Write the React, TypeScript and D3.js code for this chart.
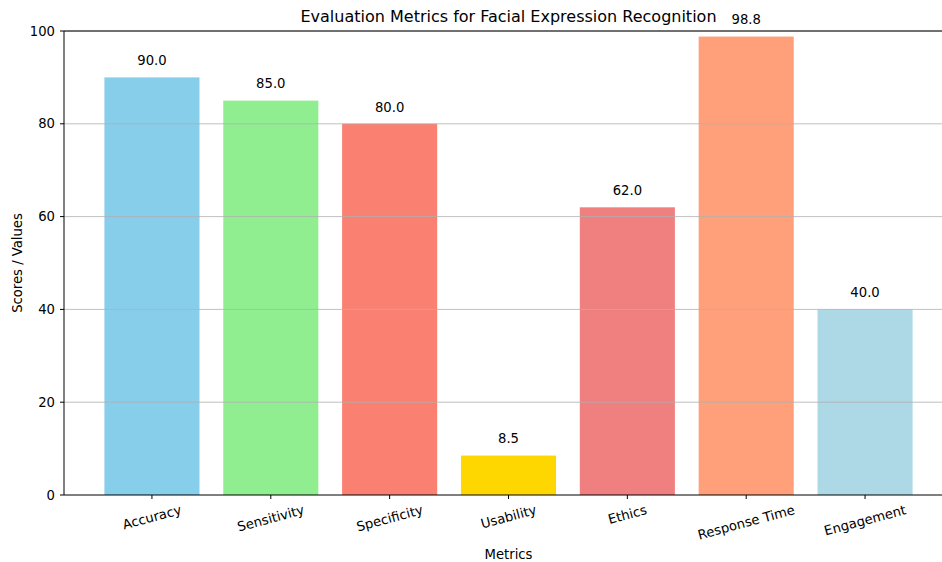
import React, { useEffect, useRef } from "react";
import * as d3 from "d3";

const categories = ["Accuracy", "Sensitivity", "Specificity", "Usability", "Ethics", "Response Time", "Engagement"];
const values = [90.0, 85.0, 80.0, 8.5, 62.0, 98.8, 40.0];
const colors = ["#87CEEB", "#90EE90", "#FA8072", "#FFD700", "#F08080", "#FFA07A", "#ADD8E6"];
const yTicks = [0, 20, 40, 60, 80, 100];
const title = "Evaluation Metrics for Facial Expression Recognition";
const xLabel = "Metrics";
const yLabel = "Scores / Values";

const W = 942;
const H = 562;
const FONT = "'DejaVu Sans', sans-serif";
const FS = 13.2;

export default function App() {
  const ref = useRef<SVGSVGElement>(null);

  useEffect(() => {
    const svg = d3.select(ref.current);
    svg.selectAll("*").remove();

    const left = 64, right = 953, top = 31, bottom = 495;
    const x = d3.scaleLinear().domain([-0.74, categories.length - 1 + 0.74]).range([left, right]);
    const y = d3.scaleLinear().domain([0, 100]).range([bottom, top]);
    const unit = x(1) - x(0);
    const bw = unit * 0.8;

    svg.append("rect").attr("width", W).attr("height", H).attr("fill", "#fff");

    // bars
    svg.append("g").selectAll("rect").data(values).join("rect")
      .attr("x", (_, i) => x(i) - bw / 2)
      .attr("y", (d) => y(d))
      .attr("width", bw)
      .attr("height", (d) => y(0) - y(d))
      .attr("fill", (_, i) => colors[i]);

    // grid (over bars)
    svg.append("g").selectAll("line").data(yTicks.filter((t) => t > 0)).join("line")
      .attr("x1", left).attr("x2", right)
      .attr("y1", (d) => y(d)).attr("y2", (d) => y(d))
      .attr("stroke", "#b0b0b0").attr("stroke-width", 0.8);

    // spines
    svg.append("line").attr("x1", left).attr("x2", left).attr("y1", top).attr("y2", bottom)
      .attr("stroke", "#000").attr("stroke-width", 1);
    svg.append("line").attr("x1", left).attr("x2", right).attr("y1", bottom).attr("y2", bottom)
      .attr("stroke", "#000").attr("stroke-width", 1);
    svg.append("line").attr("x1", left).attr("x2", right).attr("y1", top).attr("y2", top)
      .attr("stroke", "#000").attr("stroke-width", 1);

    // y ticks
    const yt = svg.append("g");
    yTicks.forEach((t) => {
      yt.append("line").attr("x1", left - 4).attr("x2", left).attr("y1", y(t)).attr("y2", y(t))
        .attr("stroke", "#000").attr("stroke-width", 1);
      yt.append("text").attr("x", left - 9).attr("y", y(t)).attr("dy", "0.35em")
        .attr("text-anchor", "end").attr("font-family", FONT).attr("font-size", FS)
        .attr("fill", "#000").text(String(t));
    });

    // x ticks
    const xt = svg.append("g");
    const ang = (15 * Math.PI) / 180;
    categories.forEach((c, i) => {
      const cx = x(i);
      xt.append("line").attr("x1", cx).attr("x2", cx).attr("y1", bottom).attr("y2", bottom + 4)
        .attr("stroke", "#000").attr("stroke-width", 1);
      const t = xt.append("text").attr("font-family", FONT).attr("font-size", FS)
        .attr("text-anchor", "middle").attr("dy", "0.35em").attr("fill", "#000").text(c);
      const w = (t.node() as SVGTextElement).getComputedTextLength();
      const h = FS * 1.15;
      const cy = bottom + 7 + (w / 2) * Math.sin(ang) + (h / 2) * Math.cos(ang);
      t.attr("transform", `translate(${cx},${cy}) rotate(-15)`);
    });

    // value labels
    svg.append("g").selectAll("text").data(values).join("text")
      .attr("x", (_, i) => x(i))
      .attr("y", (d) => y(d + 2) - 3)
      .attr("text-anchor", "middle").attr("font-family", FONT).attr("font-size", FS)
      .attr("fill", "#000").text((d) => d.toFixed(1));

    // title
    svg.append("text").attr("x", (left + right) / 2).attr("y", 22)
      .attr("text-anchor", "middle").attr("font-family", FONT).attr("font-size", 16)
      .attr("fill", "#000").text(title);

    // axis labels
    svg.append("text").attr("x", (left + right) / 2).attr("y", 559)
      .attr("text-anchor", "middle").attr("font-family", FONT).attr("font-size", FS)
      .attr("fill", "#000").text(xLabel);
    svg.append("text").attr("transform", `translate(22,${(top + bottom) / 2}) rotate(-90)`)
      .attr("text-anchor", "middle").attr("font-family", FONT).attr("font-size", FS)
      .attr("fill", "#000").text(yLabel);
  }, []);

  return (
    <svg ref={ref} width={W} height={H} style={{ position: "absolute", left: 0, top: 0 }} />
  );
}
